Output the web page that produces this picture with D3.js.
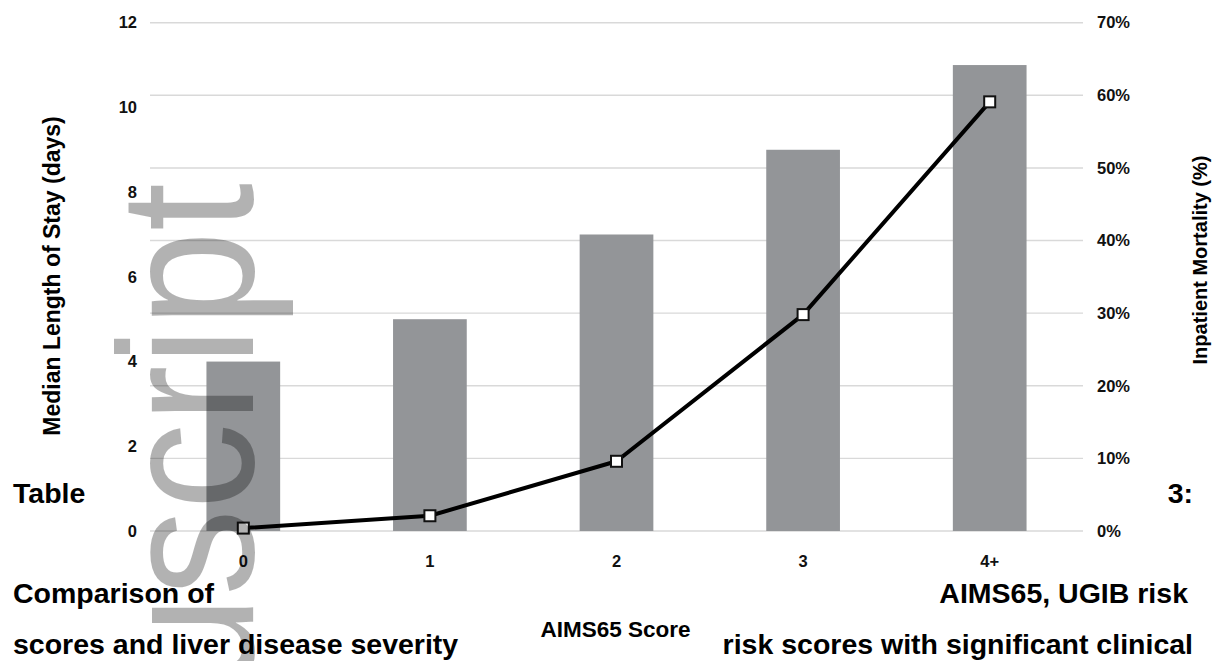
<!DOCTYPE html>
<html>
<head>
<meta charset="utf-8">
<script src="https://cdn.jsdelivr.net/npm/d3@7"></script>
<style>
    body { margin: 0; background: #fff; }
    text { font-family: "Liberation Sans", Arial, Helvetica, sans-serif; }
</style>
</head>
<body>
<div id="chart"></div>
<script>
// data
const categories = ["0", "1", "2", "3", "4+"];
const lengthOfStay = [4, 5, 7, 9, 11];              // days (bars, left axis)
const mortality = [0.4, 2.1, 9.6, 29.8, 59.1];      // % (line, right axis)
const leftTicks = [0, 2, 4, 6, 8, 10, 12];
const rightTicks = [0, 10, 20, 30, 40, 50, 60, 70];

function page_load() {
    const width = 1217;
    const height = 661;

    const plotLeft = 150;
    const plotRight = 1083;
    const plotTop = 22.7;
    const plotBottom = 531;

    const svg = d3.select("#chart")
        .append("svg")
        .attr("width", width)
        .attr("height", height);

    const scaleX = d3.scaleBand()
        .domain(categories)
        .range([plotLeft, plotRight])
        .paddingInner(0.605)
        .paddingOuter(0.3025);

    const scaleY = d3.scaleLinear()
        .domain([0, 12])
        .range([plotBottom, plotTop]);

    const scaleY2 = d3.scaleLinear()
        .domain([0, 70])
        .range([plotBottom, plotTop]);

    // gridlines follow the right axis
    svg.append("g")
        .selectAll("line")
        .data(rightTicks)
        .enter()
        .append("line")
        .attr("x1", plotLeft)
        .attr("x2", plotRight)
        .attr("y1", function (d) { return scaleY2(d); })
        .attr("y2", function (d) { return scaleY2(d); })
        .attr("stroke", "#d9d9d9")
        .attr("stroke-width", 1.4);

    // bars
    svg.append("g")
        .selectAll("rect")
        .data(lengthOfStay)
        .enter()
        .append("rect")
        .attr("x", function (d, i) { return scaleX(categories[i]); })
        .attr("y", function (d) { return scaleY(d); })
        .attr("width", scaleX.bandwidth())
        .attr("height", function (d) { return plotBottom - scaleY(d); })
        .attr("fill", "#939598");

    // left axis
    const axisLeft = d3.axisLeft(scaleY)
        .tickValues(leftTicks)
        .tickSize(0)
        .tickPadding(13);
    const gLeft = svg.append("g")
        .attr("transform", `translate(${plotLeft}, 0)`)
        .call(axisLeft);
    gLeft.select(".domain").remove();
    gLeft.selectAll("text")
        .attr("font-size", "16.5px")
        .attr("font-weight", "bold")
        .attr("fill", "#111")
        .attr("font-family", "Liberation Sans, Arial, sans-serif");

    // right axis
    const axisRight = d3.axisRight(scaleY2)
        .tickValues(rightTicks)
        .tickSize(0)
        .tickPadding(14)
        .tickFormat(function (d) { return d + "%"; });
    const gRight = svg.append("g")
        .attr("transform", `translate(${plotRight}, 0)`)
        .call(axisRight);
    gRight.select(".domain").remove();
    gRight.selectAll("text")
        .attr("font-size", "16.5px")
        .attr("font-weight", "bold")
        .attr("fill", "#111")
        .attr("font-family", "Liberation Sans, Arial, sans-serif");

    // bottom axis
    const axisBottom = d3.axisBottom(scaleX)
        .tickSize(0)
        .tickPadding(24);
    const gBottom = svg.append("g")
        .attr("transform", `translate(0, ${plotBottom})`)
        .call(axisBottom);
    gBottom.select(".domain").remove();
    gBottom.selectAll("text")
        .attr("font-size", "16.5px")
        .attr("font-weight", "bold")
        .attr("fill", "#111")
        .attr("font-family", "Liberation Sans, Arial, sans-serif");

    // mortality line
    const line = d3.line()
        .x(function (d, i) { return scaleX(categories[i]) + scaleX.bandwidth() / 2; })
        .y(function (d) { return scaleY2(d); });

    svg.append("path")
        .datum(mortality)
        .attr("d", line)
        .attr("fill", "none")
        .attr("stroke", "#000")
        .attr("stroke-width", 4)
        .attr("stroke-linejoin", "round");

    svg.append("g")
        .selectAll("rect")
        .data(mortality)
        .enter()
        .append("rect")
        .attr("x", function (d, i) { return scaleX(categories[i]) + scaleX.bandwidth() / 2 - 5.5; })
        .attr("y", function (d) { return scaleY2(d) - 5.5; })
        .attr("width", 11)
        .attr("height", 11)
        .attr("fill", "#fff")
        .attr("stroke", "#111")
        .attr("stroke-width", 2);

    // axis titles
    svg.append("text")
        .attr("transform", "translate(60, 276) rotate(-90)")
        .attr("text-anchor", "middle")
        .attr("font-size", "23px")
        .attr("font-weight", "bold")
        .text("Median Length of Stay (days)");

    svg.append("text")
        .attr("transform", "translate(1207, 260) rotate(-90)")
        .attr("text-anchor", "middle")
        .attr("font-size", "20px")
        .attr("font-weight", "bold")
        .text("Inpatient Mortality (%)");

    svg.append("text")
        .attr("x", 615.5)
        .attr("y", 637)
        .attr("text-anchor", "middle")
        .attr("font-size", "22.5px")
        .attr("font-weight", "bold")
        .text("AIMS65 Score");

    // surrounding page text that wraps round the figure
    const pageText = [
        ["Table", 13, 503, "start"],
        ["3:", 1193, 503, "end"],
        ["Comparison of", 13, 603, "start"],
        ["AIMS65, UGIB risk", 1188, 603, "end"],
        ["scores and liver disease severity", 13, 654, "start"],
        ["risk scores with significant clinical", 1193, 654, "end"]
    ];
    svg.append("g")
        .selectAll("text")
        .data(pageText)
        .enter()
        .append("text")
        .attr("x", function (d) { return d[1]; })
        .attr("y", function (d) { return d[2]; })
        .attr("text-anchor", function (d) { return d[3]; })
        .attr("font-size", "28.5px")
        .attr("font-weight", "bold")
        .attr("fill", "#000")
        .text(function (d) { return d[0]; });

    // watermark
    svg.append("text")
        .attr("transform", "translate(253, 183) rotate(-90) scale(0.9, 1)")
        .attr("text-anchor", "end")
        .attr("font-size", "192px")
        .attr("fill", "#000")
        .attr("fill-opacity", 0.3)
        .text("Manuscript");
}

page_load();
</script>
</body>
</html>
